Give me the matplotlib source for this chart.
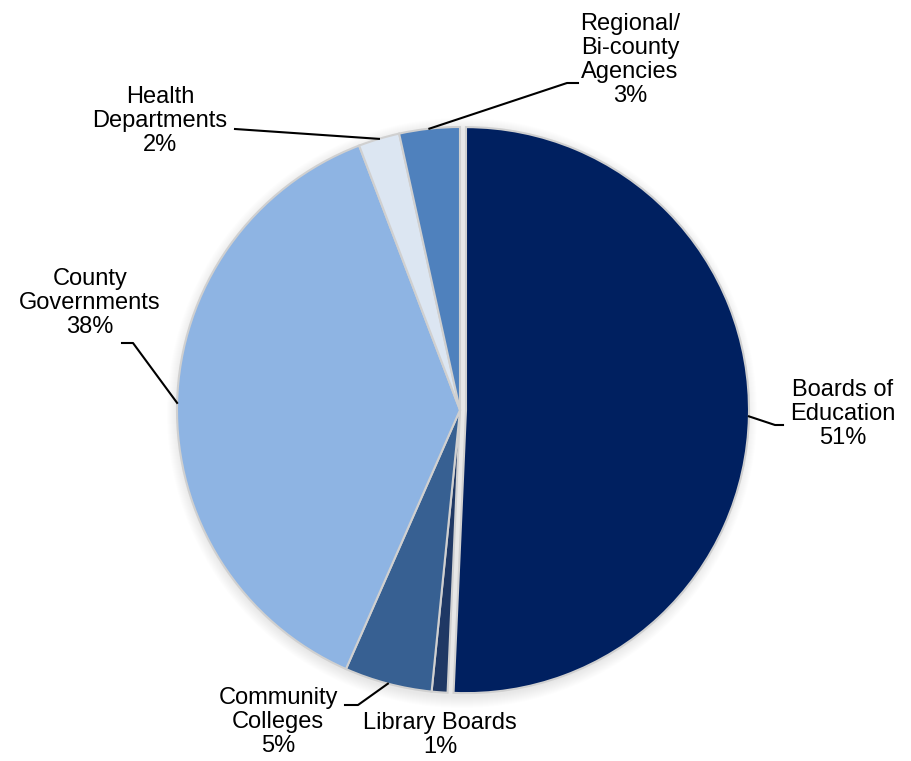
import numpy as np
import matplotlib.pyplot as plt
from matplotlib.patches import Circle

plt.rcParams['font.family'] = ['Liberation Sans', 'DejaVu Sans']

labels = ['Boards of\nEducation\n51%', 'Library Boards\n1%', 'Community\nColleges\n5%',
          'County\nGovernments\n38%', 'Health\nDepartments\n2%', 'Regional/\nBi-county\nAgencies\n3%']
shares = [50.7, 0.9, 5.0, 37.6, 2.35, 3.45]
colors = ['#002060', '#1f3864', '#376092', '#8eb4e3', '#dce6f2', '#4f81bd']

# layout (pixel-like coords, y up)
cx, cy, r = 460, 351, 283
text_pos = [(843, 347), (440, 26), (278, 39), (90, 458), (160, 640), (630, 701)]
elbows = [[(775, 336), (783, 336)], None, [(358, 56), (345, 56)],
          [(133, 418), (122, 418)], [(235, 632)], [(567, 678), (578, 678)]]

fig = plt.figure(figsize=(9.11, 7.61), dpi=100)
ax = fig.add_axes([0, 0, 1, 1])

# soft shadow
for k in range(12):
    ax.add_patch(Circle((cx + 2, cy - 3), r + 12 - k, color='k', alpha=0.009, lw=0, zorder=0))

wedges, _ = ax.pie(shares, colors=colors, startangle=90, counterclock=False,
                   center=(cx, cy), radius=r, explode=[6, 0, 0, 0, 0, 0],
                   wedgeprops=dict(edgecolor='#d0d0d0', linewidth=1.5), frame=True)
ax.set_xlim(0, 911)
ax.set_ylim(0, 761)
ax.set_aspect('equal')
ax.axis('off')

for w, lab, tp, el in zip(wedges, labels, text_pos, elbows):
    ax.text(tp[0], tp[1], lab, ha='center', va='center', fontsize=17,
            linespacing=1.13, color='black')
    if el is None:
        continue
    a = np.deg2rad((w.theta1 + w.theta2) / 2)
    wx, wy = w.center
    pts = [(wx + r * np.cos(a), wy + r * np.sin(a))] + el
    ax.plot([p[0] for p in pts], [p[1] for p in pts], color='black', lw=1.5)

fig.savefig('out.png', dpi=100)
